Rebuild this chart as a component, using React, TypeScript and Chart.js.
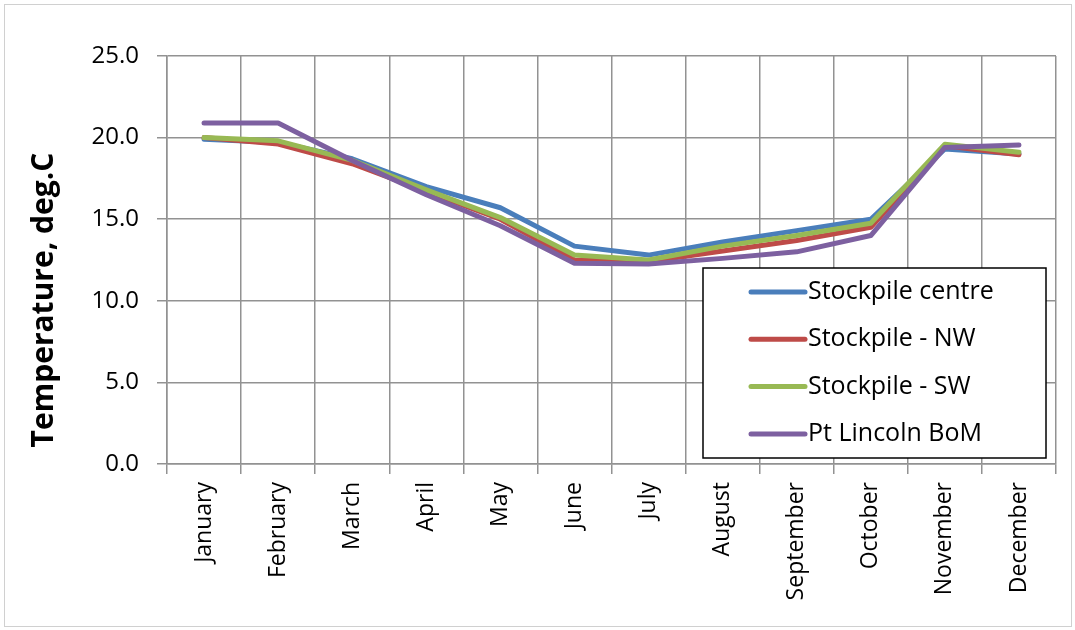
import React, { useEffect, useRef } from "react";
import { Chart, registerables } from "chart.js";

Chart.register(...registerables);

const months = ["January", "February", "March", "April", "May", "June", "July", "August", "September", "October", "November", "December"];
const stockpileCentre = [19.9, 19.7, 18.7, 17.0, 15.7, 13.35, 12.8, 13.6, 14.3, 15.0, 19.3, 19.0];
const stockpileNW = [20.0, 19.6, 18.4, 16.7, 15.0, 12.5, 12.4, 13.05, 13.7, 14.5, 19.5, 18.95];
const stockpileSW = [20.0, 19.8, 18.6, 16.8, 15.1, 12.8, 12.5, 13.35, 14.0, 14.75, 19.6, 19.1];
const ptLincolnBoM = [20.9, 20.9, 18.6, 16.5, 14.6, 12.3, 12.25, 12.6, 13.0, 14.0, 19.4, 19.55];
const seriesNames = ["Stockpile centre", "Stockpile - NW", "Stockpile - SW", "Pt Lincoln BoM"];
const seriesColors = ["#4A7EBB", "#BE4B48", "#98B954", "#7D60A0"];
const yTitle = "Temperature, deg.C";

const FONT = "'Open Sans', 'DejaVu Sans', sans-serif";
const GRID = "#929292";

const overlayPlugin = {
  id: "overlay",
  afterDraw(chart: any) {
    const ctx = chart.ctx;
    // Y axis title
    ctx.save();
    ctx.translate(53, 300);
    ctx.rotate(-Math.PI / 2);
    ctx.font = `bold 30px ${FONT}`;
    ctx.fillStyle = "#000";
    ctx.textAlign = "center";
    ctx.textBaseline = "alphabetic";
    ctx.fillText(yTitle, 0, 0);
    ctx.restore();

    // Legend box
    ctx.save();
    const bx = 703, by = 268, bw = 343, bh = 190;
    ctx.fillStyle = "#fff";
    ctx.fillRect(bx, by, bw, bh);
    ctx.strokeStyle = "#000";
    ctx.lineWidth = 1.5;
    ctx.strokeRect(bx, by, bw, bh);
    ctx.font = `25px ${FONT}`;
    ctx.textAlign = "left";
    ctx.textBaseline = "middle";
    chart.data.datasets.forEach((ds: any, i: number) => {
      const y = 292 + i * 47.3;
      ctx.strokeStyle = ds.borderColor;
      ctx.lineWidth = 5;
      ctx.lineCap = "round";
      ctx.beginPath();
      ctx.moveTo(751, y);
      ctx.lineTo(805, y);
      ctx.stroke();
      ctx.fillStyle = "#000";
      ctx.fillText(ds.label, 808, y);
    });
    ctx.restore();
  },
};

export default function App() {
  const ref = useRef<HTMLCanvasElement>(null);
  useEffect(() => {
    document.body.style.margin = "0";
    const data = [stockpileCentre, stockpileNW, stockpileSW, ptLincolnBoM];
    const chart = new Chart(ref.current as HTMLCanvasElement, {
      type: "line",
      data: {
        labels: months,
        datasets: data.map((d, i) => ({
          label: seriesNames[i],
          data: d,
          borderColor: seriesColors[i],
          backgroundColor: seriesColors[i],
          borderWidth: 5,
          pointRadius: 0,
          tension: 0,
          borderCapStyle: "round",
          borderJoinStyle: "round",
          order: 4 - i,
        })),
      },
      options: {
        animation: false,
        responsive: false,
        devicePixelRatio: 1,
        layout: { padding: { top: 56, right: 19, bottom: 0, left: 0 } },
        plugins: { legend: { display: false }, tooltip: { enabled: false } },
        scales: {
          x: {
            offset: true,
            grid: { offset: true, color: GRID, lineWidth: 1.5, tickLength: 10, drawTicks: true },
            border: { color: GRID, width: 1.5 },
            ticks: {
              minRotation: 90,
              maxRotation: 90,
              autoSkip: false,
              padding: 8,
              color: "#000",
              font: { family: FONT, size: 23 },
            },
            afterFit: (s: any) => { s.height = 166; },
          },
          y: {
            min: 0,
            max: 25,
            grid: { color: GRID, lineWidth: 1.5, tickLength: 10 },
            border: { color: GRID, width: 1.5 },
            ticks: {
              stepSize: 5,
              padding: 18,
              color: "#000",
              font: { family: FONT, size: 24 },
              callback: (v: any) => Number(v).toFixed(1),
            },
            afterFit: (s: any) => { s.width = 167; },
          },
        },
      },
      plugins: [overlayPlugin],
    });
    return () => chart.destroy();
  }, []);
  return (
    <div style={{ position: "relative", width: 1075, height: 630, background: "#fff" }}>
      <canvas ref={ref} width={1075} height={630} style={{ display: "block" }} />
      <div style={{ position: "absolute", left: 4, top: 4, width: 1066, height: 621, border: "1px solid #d0d0d0", pointerEvents: "none" }} />
    </div>
  );
}
